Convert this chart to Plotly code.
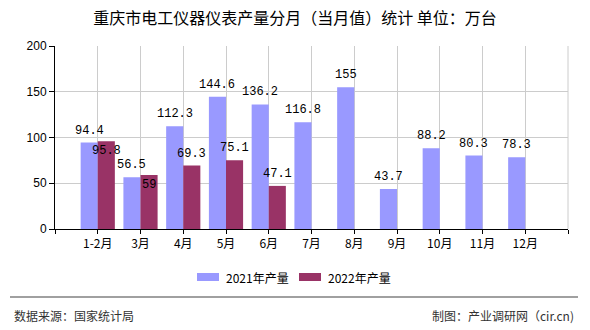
import plotly.graph_objects as go

categories = ["1-2月", "3月", "4月", "5月", "6月", "7月", "8月", "9月", "10月", "11月", "12月"]
values_2021 = [94.4, 56.5, 112.3, 144.6, 136.2, 116.8, 155, 43.7, 88.2, 80.3, 78.3]
values_2022 = [95.8, 59, 69.3, 75.1, 47.1, None, None, None, None, None, None]
series_names = ["2021年产量", "2022年产量"]
colors = ["#9999FF", "#993366"]
yticks = [0, 50, 100, 150, 200]

W, H = 590, 330
L, R, T, B = 55, 22, 46, 101
PW, PH = W - L - R, H - T - B


def px2paper(x, y):
    return (x - L) / PW, (H - B - y) / PH


xs = list(range(len(categories)))
fig = go.Figure()
for name, vals, col in zip(series_names, [values_2021, values_2022], colors):
    fig.add_trace(go.Bar(x=xs, y=vals, name=name, marker=dict(color=col, line=dict(width=0)),
                         showlegend=False, hoverinfo="skip"))

label_font = dict(family="Liberation Mono, DejaVu Sans Mono, monospace", size=12, color="#000")
annotations = []
for i, v in enumerate(values_2021):
    annotations.append(dict(x=i - 0.2, y=v, xref="x", yref="y", text=str(v), showarrow=False,
                            yanchor="bottom", yshift=3, font=label_font))
for i, v in enumerate(values_2022):
    if v is None:
        continue
    close = abs(v - values_2021[i]) < 10
    annotations.append(dict(x=i + 0.2, y=v, xref="x", yref="y", text=str(v), showarrow=False,
                            yanchor="top" if close else "bottom", yshift=-1 if close else 3,
                            font=label_font))

# custom legend
shapes = []
leg_font = dict(family="Noto Sans CJK SC, sans-serif", size=12, color="#000")
for (x0, tx), name, col in zip([(197, 224), (299, 326)], series_names, colors):
    a0, b0 = px2paper(x0, 281)
    a1, b1 = px2paper(x0 + 22, 273)
    shapes.append(dict(type="rect", xref="paper", yref="paper", x0=a0, x1=a1, y0=b0, y1=b1,
                       fillcolor=col, line=dict(width=0)))
    ta, tb = px2paper(tx, 277)
    annotations.append(dict(x=ta, y=tb, xref="paper", yref="paper", text=name, showarrow=False,
                            xanchor="left", yanchor="middle", font=leg_font))

# right border line of plot
shapes.append(dict(type="line", xref="paper", yref="paper", x0=1, x1=1, y0=0, y1=1,
                   line=dict(color="#cccccc", width=1)))
# footer separator
a0, b0 = px2paper(10, 297)
a1, _ = px2paper(578, 297)
shapes.append(dict(type="line", xref="paper", yref="paper", x0=a0, x1=a1, y0=b0, y1=b0,
                   line=dict(color="#808080", width=1.5)))

foot_font = dict(family="Noto Sans CJK SC, sans-serif", size=12, color="#333")
fa, fb = px2paper(12, 315)
annotations.append(dict(x=fa, y=fb, xref="paper", yref="paper", text="数据来源：国家统计局",
                        showarrow=False, xanchor="left", yanchor="middle", font=foot_font))
fa, fb = px2paper(576, 315)
annotations.append(dict(x=fa, y=fb, xref="paper", yref="paper", text="制图：产业调研网（cir.cn)",
                        showarrow=False, xanchor="right", yanchor="middle", font=foot_font))

fig.update_layout(
    width=W, height=H,
    margin=dict(l=L, r=R, t=T, b=B, pad=0),
    paper_bgcolor="white", plot_bgcolor="white",
    barmode="group", bargap=0.2, bargroupgap=0,
    title=dict(text="重庆市电工仪器仪表产量分月（当月值）统计 单位：万台", x=0.5, xref="container",
               xanchor="center", y=1 - 18 / H, yanchor="middle",
               font=dict(family="Noto Sans CJK SC, sans-serif", size=16, color="#000")),
    showlegend=False,
    annotations=annotations,
    shapes=shapes,
    xaxis=dict(range=[-1, len(categories)], tickmode="array",
               tickvals=[-1] + xs + [len(categories)],
               ticktext=[""] + categories + [""],
               showgrid=True, gridcolor="#cccccc", gridwidth=1,
               showline=True, linecolor="#000", linewidth=1,
               ticks="outside", ticklen=4, tickcolor="#000",
               zeroline=False,
               tickfont=dict(family="Noto Sans CJK SC, sans-serif", size=12, color="#000")),
    yaxis=dict(range=[0, 200], tickmode="array", tickvals=yticks,
               showgrid=True, gridcolor="#cccccc", gridwidth=1,
               showline=True, linecolor="#000", linewidth=1,
               ticks="outside", ticklen=5, tickcolor="#000",
               zeroline=False,
               tickfont=dict(family="Liberation Sans, Arial, sans-serif", size=12, color="#000")),
)

fig.write_html("out.html")
